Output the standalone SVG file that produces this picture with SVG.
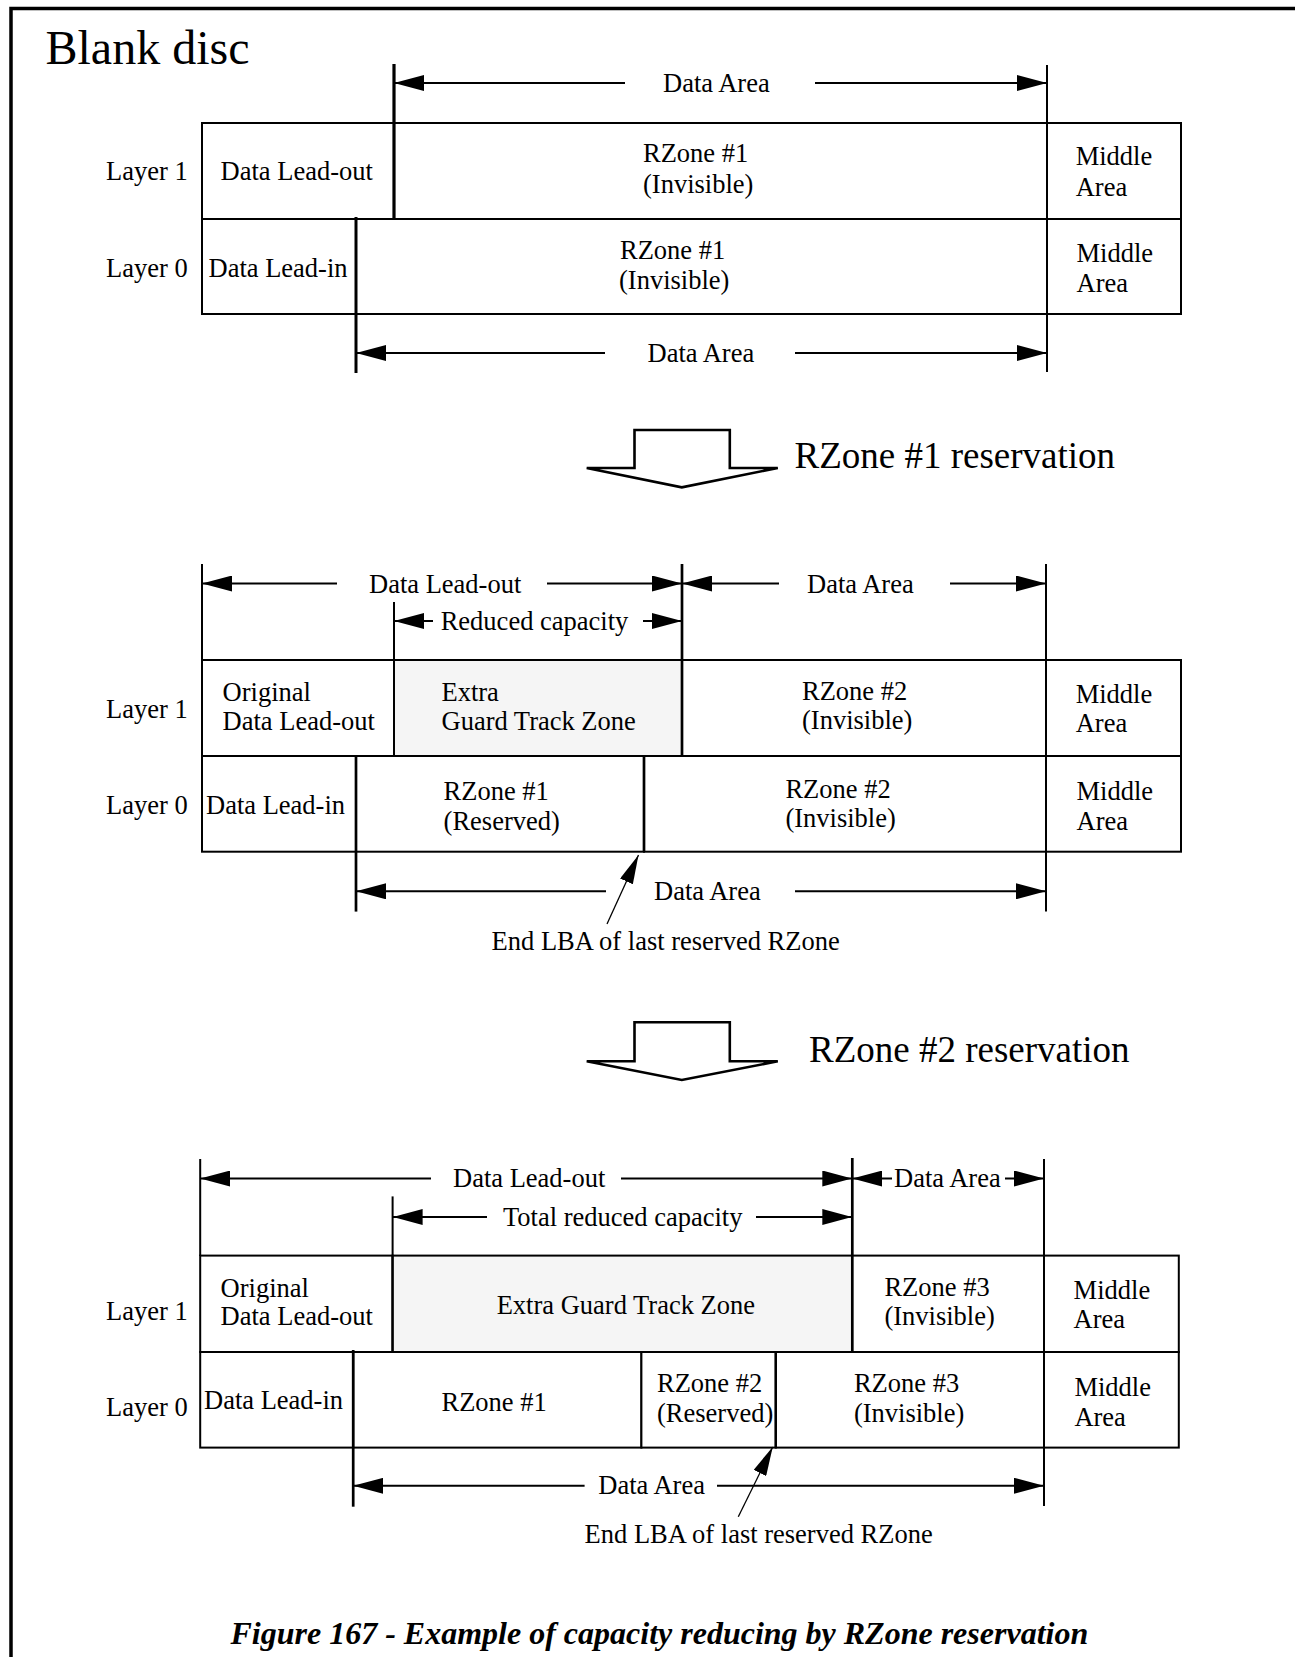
<svg xmlns="http://www.w3.org/2000/svg" width="1295" height="1657" viewBox="0 0 1295 1657">
<style>
.t{font-family:"Liberation Serif","Times New Roman",serif;font-size:26.5px;fill:#000}
.big{font-family:"Liberation Serif","Times New Roman",serif;font-size:37px;fill:#000}
.cap{font-family:"Liberation Serif","Times New Roman",serif;font-size:32px;font-weight:bold;font-style:italic;fill:#000}
.cell{fill:#fff;stroke:#000;stroke-width:2}
.gray{fill:#f5f5f5;stroke:#000;stroke-width:2}
.ext{stroke:#000;stroke-width:2;fill:none}
.thk{stroke:#000;stroke-width:2.7;fill:none}
.dim{stroke:#000;stroke-width:2;fill:none;marker-end:url(#ah)}
.ptr{stroke:#000;stroke-width:1.3;fill:none;marker-end:url(#ahp)}
.blk{fill:#fff;stroke:#000;stroke-width:2.6;stroke-linejoin:miter}
</style>
<defs>
<marker id="ah" markerUnits="userSpaceOnUse" markerWidth="30" markerHeight="16" viewBox="0 0 30 16" refX="30" refY="8" orient="auto"><path d="M0,0 L30,8 L0,16 z" fill="#000"/></marker>
<marker id="ahp" markerUnits="userSpaceOnUse" markerWidth="29" markerHeight="14" viewBox="0 0 29 14" refX="29" refY="7" orient="auto"><path d="M0,0 L29,7 L0,14 z" fill="#000"/></marker>
</defs>
<rect width="1295" height="1657" fill="#fff"/>
<g id="frame"><path d="M11,1657 V8.5 H1295" fill="none" stroke="#000" stroke-width="3.5"/></g>
<text id="title" class="t" x="45.5" y="64" style="font-size:48px">Blank disc</text>

<!-- Section 1 -->
<g id="section1">
<text id="s1-layer1" class="t" x="106" y="180">Layer 1</text>
<text id="s1-layer0" class="t" x="106" y="276.5">Layer 0</text>
<g id="s1-l1-leadout"><rect class="cell" x="202" y="123" width="192" height="96"/><text class="t" x="220.6" y="180">Data Lead-out</text></g>
<g id="s1-l1-rzone1"><rect class="cell" x="394" y="123" width="653" height="96"/><text class="t" x="643" y="162">RZone #1</text><text class="t" x="643" y="192.5">(Invisible)</text></g>
<g id="s1-l1-middle"><rect class="cell" x="1047" y="123" width="134" height="96"/><text class="t" x="1075.7" y="165">Middle</text><text class="t" x="1075.7" y="195.5">Area</text></g>
<g id="s1-l0-leadin"><rect class="cell" x="202" y="219" width="154" height="95"/><text class="t" x="208.5" y="276.5">Data Lead-in</text></g>
<g id="s1-l0-rzone1"><rect class="cell" x="356" y="219" width="691" height="95"/><text class="t" x="620" y="259">RZone #1</text><text class="t" x="619" y="289">(Invisible)</text></g>
<g id="s1-l0-middle"><rect class="cell" x="1047" y="219" width="134" height="95"/><text class="t" x="1076.5" y="262.3">Middle</text><text class="t" x="1076.5" y="292.3">Area</text></g>
<text class="t" x="663" y="91.5">Data Area</text>
<text class="t" x="647.5" y="361.5">Data Area</text>
</g>

<!-- Section 2 -->
<g id="section2">
<text id="s2-layer1" class="t" x="106" y="718">Layer 1</text>
<text id="s2-layer0" class="t" x="106" y="814">Layer 0</text>
<g id="s2-l1-original"><rect class="cell" x="202" y="660" width="192" height="96"/><text class="t" x="222.6" y="700.5">Original</text><text class="t" x="222.6" y="730">Data Lead-out</text></g>
<g id="s2-l1-extra"><rect class="gray" x="394" y="660" width="288" height="96"/><text class="t" x="441.5" y="700.5">Extra</text><text class="t" x="441.5" y="730">Guard Track Zone</text></g>
<g id="s2-l1-rzone2"><rect class="cell" x="682" y="660" width="364" height="96"/><text class="t" x="802" y="699.5">RZone #2</text><text class="t" x="802" y="729">(Invisible)</text></g>
<g id="s2-l1-middle"><rect class="cell" x="1046" y="660" width="135" height="96"/><text class="t" x="1075.7" y="703.3">Middle</text><text class="t" x="1075.7" y="732.3">Area</text></g>
<g id="s2-l0-leadin"><rect class="cell" x="202" y="756" width="154" height="95.7"/><text class="t" x="206" y="814">Data Lead-in</text></g>
<g id="s2-l0-rzone1"><rect class="cell" x="356" y="756" width="288" height="95.7"/><text class="t" x="443.6" y="800">RZone #1</text><text class="t" x="443.6" y="830">(Reserved)</text></g>
<g id="s2-l0-rzone2"><rect class="cell" x="644" y="756" width="402" height="95.7"/><text class="t" x="785.4" y="797.5">RZone #2</text><text class="t" x="785.4" y="827">(Invisible)</text></g>
<g id="s2-l0-middle"><rect class="cell" x="1046" y="756" width="135" height="95.7"/><text class="t" x="1076.5" y="800">Middle</text><text class="t" x="1076.5" y="830">Area</text></g>
<text class="t" x="369" y="592.8">Data Lead-out</text>
<text class="t" x="440.7" y="629.8">Reduced capacity</text>
<text class="t" x="807" y="592.5">Data Area</text>
<text class="t" x="654" y="900">Data Area</text>
<text class="t" x="491.6" y="950">End LBA of last reserved RZone</text>
</g>

<!-- Section 3 -->
<g id="section3">
<text id="s3-layer1" class="t" x="106" y="1320">Layer 1</text>
<text id="s3-layer0" class="t" x="106" y="1416">Layer 0</text>
<g id="s3-l1-original"><rect class="cell" x="200.2" y="1255.6" width="192.4" height="96.4"/><text class="t" x="220.6" y="1296.5">Original</text><text class="t" x="220.6" y="1325">Data Lead-out</text></g>
<g id="s3-l1-extra"><rect class="gray" x="392.6" y="1255.6" width="459.4" height="96.4"/><text class="t" x="496.7" y="1314">Extra Guard Track Zone</text></g>
<g id="s3-l1-rzone3"><rect class="cell" x="852" y="1255.6" width="192" height="96.4"/><text class="t" x="884.4" y="1296">RZone #3</text><text class="t" x="884.4" y="1325">(Invisible)</text></g>
<g id="s3-l1-middle"><rect class="cell" x="1044" y="1255.6" width="134.8" height="96.4"/><text class="t" x="1073.6" y="1298.5">Middle</text><text class="t" x="1073.6" y="1327.5">Area</text></g>
<g id="s3-l0-leadin"><rect class="cell" x="200.2" y="1352" width="153" height="95.6"/><text class="t" x="204" y="1409">Data Lead-in</text></g>
<g id="s3-l0-rzone1"><rect class="cell" x="353.2" y="1352" width="288.2" height="95.6"/><text class="t" x="441.5" y="1411">RZone #1</text></g>
<g id="s3-l0-rzone2"><rect class="cell" x="641.4" y="1352" width="134.4" height="95.6"/><text class="t" x="657" y="1391.5">RZone #2</text><text class="t" x="657" y="1421.7">(Reserved)</text></g>
<g id="s3-l0-rzone3"><rect class="cell" x="775.8" y="1352" width="268.2" height="95.6"/><text class="t" x="853.9" y="1392">RZone #3</text><text class="t" x="853.9" y="1422">(Invisible)</text></g>
<g id="s3-l0-middle"><rect class="cell" x="1044" y="1352" width="134.8" height="95.6"/><text class="t" x="1074.4" y="1395.5">Middle</text><text class="t" x="1074.4" y="1426">Area</text></g>
<text class="t" x="453" y="1187.3">Data Lead-out</text>
<text class="t" x="894" y="1186.8">Data Area</text>
<text class="t" x="503" y="1226">Total reduced capacity</text>
<text class="t" x="598.3" y="1494">Data Area</text>
<text class="t" x="584.6" y="1543">End LBA of last reserved RZone</text>
</g>

<!-- Transitions -->
<g id="transition1">
<polygon class="blk" points="586.7,468 634.5,468 634.5,430 729.8,430 729.8,468 777.8,468 681.8,487.3"/>
<text class="big" x="794.5" y="468">RZone #1 reservation</text>
</g>
<g id="transition2">
<polygon class="blk" points="586.7,1061.3 634.5,1061.3 634.5,1022.2 729.8,1022.2 729.8,1061.3 777.8,1061.3 681.8,1080"/>
<text class="big" x="809" y="1061.5">RZone #2 reservation</text>
</g>

<g id="connectors">
<!-- section 1 boundaries -->
<line class="thk" x1="394" y1="64" x2="394" y2="220" style="stroke-width:3.2"/>
<line class="thk" x1="356" y1="217" x2="356" y2="373" style="stroke-width:3"/>
<line class="ext" x1="1047" y1="65" x2="1047" y2="372"/>
<line class="dim" x1="625" y1="83" x2="394" y2="83"/>
<line class="dim" x1="815" y1="83" x2="1047" y2="83"/>
<line class="dim" x1="605" y1="353" x2="356" y2="353"/>
<line class="dim" x1="795" y1="353" x2="1047" y2="353"/>
<!-- section 2 boundaries -->
<line class="ext" x1="202" y1="564" x2="202" y2="660"/>
<line class="ext" x1="394" y1="602" x2="394" y2="756"/>
<line class="thk" x1="682" y1="564" x2="682" y2="757"/>
<line class="ext" x1="1046" y1="564" x2="1046" y2="911.6"/>
<line class="thk" x1="356" y1="756" x2="356" y2="911.6"/>
<line class="thk" x1="644" y1="756" x2="644" y2="852"/>
<line class="dim" x1="337" y1="583.5" x2="202" y2="583.5"/>
<line class="dim" x1="547" y1="583.5" x2="682" y2="583.5"/>
<line class="dim" x1="779" y1="583.5" x2="682" y2="583.5"/>
<line class="dim" x1="950" y1="583.5" x2="1046" y2="583.5"/>
<line class="dim" x1="433" y1="621" x2="394" y2="621"/>
<line class="dim" x1="643" y1="621" x2="682" y2="621"/>
<line class="dim" x1="606" y1="891.3" x2="356" y2="891.3"/>
<line class="dim" x1="795" y1="891.3" x2="1046" y2="891.3"/>
<line class="ptr" x1="607" y1="924" x2="638.5" y2="855"/>
<!-- section 3 boundaries -->
<line class="ext" x1="200.2" y1="1159" x2="200.2" y2="1256"/>
<line class="ext" x1="392.6" y1="1196.4" x2="392.6" y2="1352"/>
<line class="thk" x1="852.3" y1="1158" x2="852.3" y2="1352"/>
<line class="ext" x1="1044" y1="1159" x2="1044" y2="1506"/>
<line class="thk" x1="353.2" y1="1350" x2="353.2" y2="1506.7"/>
<line class="ext" x1="775.8" y1="1352" x2="775.8" y2="1447.6" style="stroke-width:2.3"/>
<line class="dim" x1="431" y1="1178.5" x2="200.2" y2="1178.5"/>
<line class="dim" x1="621" y1="1178.5" x2="852.3" y2="1178.5"/>
<line class="dim" x1="892" y1="1178.5" x2="852.3" y2="1178.5"/>
<line class="dim" x1="1005" y1="1178.5" x2="1044" y2="1178.5"/>
<line class="dim" x1="487" y1="1217" x2="392.6" y2="1217"/>
<line class="dim" x1="756" y1="1217" x2="852.3" y2="1217"/>
<line class="dim" x1="584.6" y1="1485.8" x2="353.2" y2="1485.8"/>
<line class="dim" x1="717" y1="1485.8" x2="1044" y2="1485.8"/>
<line class="ptr" x1="738.3" y1="1516.7" x2="772.7" y2="1447"/>
</g>

<text id="caption" class="cap" x="230.5" y="1644">Figure 167 - Example of capacity reducing by RZone reservation</text>
</svg>
